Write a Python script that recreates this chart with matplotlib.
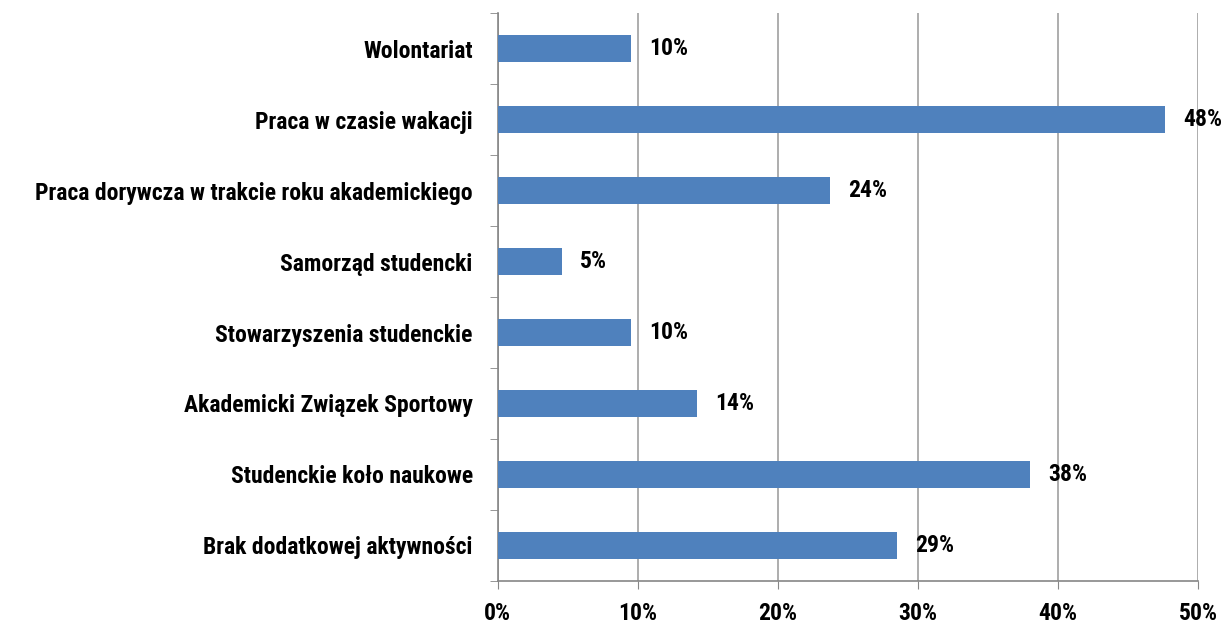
import matplotlib.pyplot as plt
import numpy as np
from matplotlib.ticker import FixedLocator, FuncFormatter

categories = [
    "Wolontariat",
    "Praca w czasie wakacji",
    "Praca dorywcza w trakcie roku akademickiego",
    "Samorząd studencki",
    "Stowarzyszenia studenckie",
    "Akademicki Związek Sportowy",
    "Studenckie koło naukowe",
    "Brak dodatkowej aktywności",
]
values = [9.5, 47.6, 23.7, 4.6, 9.5, 14.2, 38.0, 28.5]
value_labels = ["10%", "48%", "24%", "5%", "10%", "14%", "38%", "29%"]
x_ticks = [0, 10, 20, 30, 40, 50]

plt.rcParams['font.family'] = ['Roboto Condensed', 'DejaVu Sans']
plt.rcParams['font.weight'] = 'bold'

fig = plt.figure(figsize=(12.29, 6.26), dpi=100)
ax = fig.add_axes([0.405, 0.072, 0.570, 0.907])

y = np.arange(len(categories))[::-1]
ax.barh(y, values, height=0.38, color='#4F81BD', zorder=3)

# etykiety wartosci obok slupkow
for yi, v, lab in zip(y, values, value_labels):
    ax.text(v + 1.3, yi, lab, va='center', ha='left', fontsize=17, fontweight='bold', zorder=4)

ax.set_xlim(0, 50)
ax.set_ylim(-0.5, len(categories) - 0.5)
ax.set_xticks(x_ticks)
ax.xaxis.set_major_formatter(FuncFormatter(lambda v, p: f"{v:.0f}%"))
ax.set_yticks(y)
ax.set_yticklabels(categories, fontsize=17, fontweight='bold')
ax.yaxis.set_minor_locator(FixedLocator(np.arange(-0.5, len(categories), 1.0)))
ax.tick_params(axis='y', which='major', length=0, pad=18)
ax.tick_params(axis='y', which='minor', length=6, color='#868686')
ax.tick_params(axis='x', length=6, color='#868686', labelsize=17, pad=9)
for t in ax.get_xticklabels():
    t.set_fontweight('bold')

ax.grid(axis='x', color='#A0A0A0', linewidth=1.2, zorder=0)
for s in ['top', 'right']:
    ax.spines[s].set_visible(False)
for s in ['left', 'bottom']:
    ax.spines[s].set_color('#868686')
    ax.spines[s].set_linewidth(1.2)

plt.savefig('out.png', dpi=100)
